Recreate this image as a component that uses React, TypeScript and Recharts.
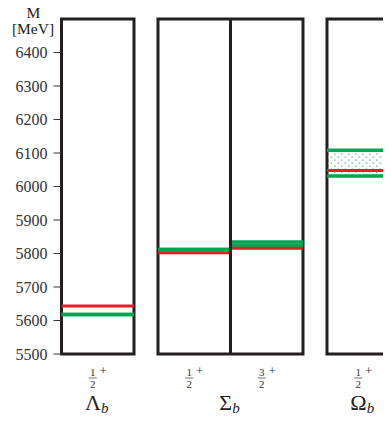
import React from "react";
import {
  ComposedChart,
  XAxis,
  YAxis,
  Scatter,
  ReferenceArea,
  ReferenceLine,
  Customized,
} from "recharts";

// ---- data ----
const yTicks = [5500, 5600, 5700, 5800, 5900, 6000, 6100, 6200, 6300, 6400];
const numerators = ["1", "1", "3", "1"];
const denominators = ["2", "2", "2", "2"];
const parities = ["+", "+", "+", "+"];
const baryons = ["Λ", "Σ", "Ω"];
const baryonSub = ["b", "b", "b"];
const panelColumns = [[0], [1, 2], [3]];
const redMass = [5643, 5802, 5816, 6048];
const greenLow = [5618, 5812, 5825, 6031];
const greenHigh = [5618, 5812, 5834, 6108];

// ---- layout ----
const GAP = 0.331;
const colStart = (i: number) => {
  const panel = panelColumns.findIndex((p) => p.includes(i));
  return i + panel * GAP;
};
const colCenters = numerators.map((_, i) => colStart(i) + 0.5);
const panelCenters = panelColumns.map(
  (p) => (colStart(p[0]) + colStart(p[p.length - 1]) + 1) / 2
);
const chartData = numerators.map((_, i) => ({ x: colCenters[i], red: redMass[i] }));

const FRAME = "#231f20";
const RED = "#e31e24";
const GREEN = "#00a651";
const FONT = "'Liberation Serif', serif";

const FracTick = (props: any) => {
  const { x, y, index } = props;
  return (
    <g style={{ fontFamily: FONT }} fill="#333">
      <text x={x - 5} y={y + 22} fontSize={11} textAnchor="middle">
        {numerators[index]}
      </text>
      <line x1={x - 9} x2={x - 1} y1={y + 24} y2={y + 24} stroke="#333" strokeWidth={0.7} />
      <text x={x - 5} y={y + 33.5} fontSize={11} textAnchor="middle">
        {denominators[index]}
      </text>
      <text x={x + 5.5} y={y + 20.5} fontSize={13} textAnchor="middle" fill="#333">
        {parities[index]}
      </text>
    </g>
  );
};

const NameTick = (props: any) => {
  const { x, y, index } = props;
  return (
    <text x={x - 1} y={y + 26} style={{ fontFamily: FONT }} fill="#222" textAnchor="middle">
      <tspan fontSize={22}>{baryons[index]}</tspan>
      <tspan fontSize={15} fontStyle="italic" dy={3}>
        {baryonSub[index]}
      </tspan>
    </text>
  );
};

const Extras = () => (
  <g>
    <defs>
      <pattern id="dots" width="7" height="6" patternUnits="userSpaceOnUse">
        <rect x="0.5" y="0.5" width="1.6" height="1.2" fill="#5cc78a" />
        <rect x="4" y="3.5" width="1.6" height="1.2" fill="#5cc78a" />
      </pattern>
    </defs>
    <text x={25.5} y={17.5} style={{ fontFamily: FONT }} fontSize={15.5} fill="#222" textAnchor="middle">
      M
    </text>
    <text x={25} y={33.5} style={{ fontFamily: FONT }} fontSize={15.5} fill="#222" textAnchor="middle">
      [MeV]
    </text>
  </g>
);

export default function App() {
  const xMax = 4.545;
  return (
    <div style={{ marginTop: -8 }}>
      <ComposedChart
        width={383}
        height={423}
        data={chartData}
        margin={{ top: 19, right: 0, bottom: 0, left: 0 }}
      >
        <Customized component={Extras} />
        <XAxis
          xAxisId="frac"
          dataKey="x"
          type="number"
          domain={[0, xMax]}
          allowDataOverflow
          ticks={colCenters}
          interval={0}
          tick={<FracTick />}
          tickLine={false}
          axisLine={false}
          tickSize={0}
          tickMargin={0}
          height={30}
        />
        <XAxis
          xAxisId="names"
          dataKey="x"
          type="number"
          domain={[0, xMax]}
          allowDataOverflow
          ticks={panelCenters}
          interval={0}
          tick={<NameTick />}
          tickLine={false}
          axisLine={false}
          tickSize={0}
          tickMargin={0}
          height={39}
        />
        <YAxis
          type="number"
          domain={[5500, 6500]}
          allowDataOverflow
          ticks={yTicks}
          interval={0}
          width={53.5}
          axisLine={false}
          tickSize={8}
          tickMargin={6}
          tickLine={{ stroke: "#333", strokeWidth: 1 }}
          tick={{ fontFamily: FONT, fontSize: 16, fill: "#333" }}
        />
        <Scatter
          xAxisId="frac"
          dataKey="red"
          fill="none"
          shape={() => <g />}
          isAnimationActive={false}
        />
        {numerators.map((_, i) =>
          greenHigh[i] - greenLow[i] > 20 ? (
            <ReferenceArea
              key={`band${i}`}
              xAxisId="frac"
              x1={colStart(i)}
              x2={colStart(i) + 1}
              y1={greenLow[i]}
              y2={greenHigh[i]}
              fill="url(#dots)"
              fillOpacity={1}
              stroke="none"
              ifOverflow="visible"
            />
          ) : null
        )}
        {numerators.map((_, i) => (
          <ReferenceLine
            key={`gl${i}`}
            xAxisId="frac"
            segment={[
              { x: colStart(i), y: greenLow[i] },
              { x: colStart(i) + 1, y: greenLow[i] },
            ]}
            stroke={GREEN}
            strokeWidth={3.5}
            ifOverflow="visible"
          />
        ))}
        {numerators.map((_, i) => (
          <ReferenceLine
            key={`gh${i}`}
            xAxisId="frac"
            segment={[
              { x: colStart(i), y: greenHigh[i] },
              { x: colStart(i) + 1, y: greenHigh[i] },
            ]}
            stroke={GREEN}
            strokeWidth={3.5}
            ifOverflow="visible"
          />
        ))}
        {numerators.map((_, i) => (
          <ReferenceLine
            key={`r${i}`}
            xAxisId="frac"
            segment={[
              { x: colStart(i), y: redMass[i] },
              { x: colStart(i) + 1, y: redMass[i] },
            ]}
            stroke={RED}
            strokeWidth={3}
            ifOverflow="visible"
          />
        ))}
        {panelColumns.map((p, k) => (
          <ReferenceArea
            key={`frame${k}`}
            xAxisId="frac"
            x1={colStart(p[0])}
            x2={colStart(p[p.length - 1]) + 1}
            y1={5500}
            y2={6500}
            fill="none"
            stroke={FRAME}
            strokeWidth={3}
            ifOverflow="visible"
          />
        ))}
        {panelColumns.map((p) =>
          p.slice(1).map((c) => (
            <ReferenceLine
              key={`div${c}`}
              xAxisId="frac"
              segment={[
                { x: colStart(c), y: 5500 },
                { x: colStart(c), y: 6500 },
              ]}
              stroke={FRAME}
              strokeWidth={3}
              ifOverflow="visible"
            />
          ))
        )}
      </ComposedChart>
    </div>
  );
}
